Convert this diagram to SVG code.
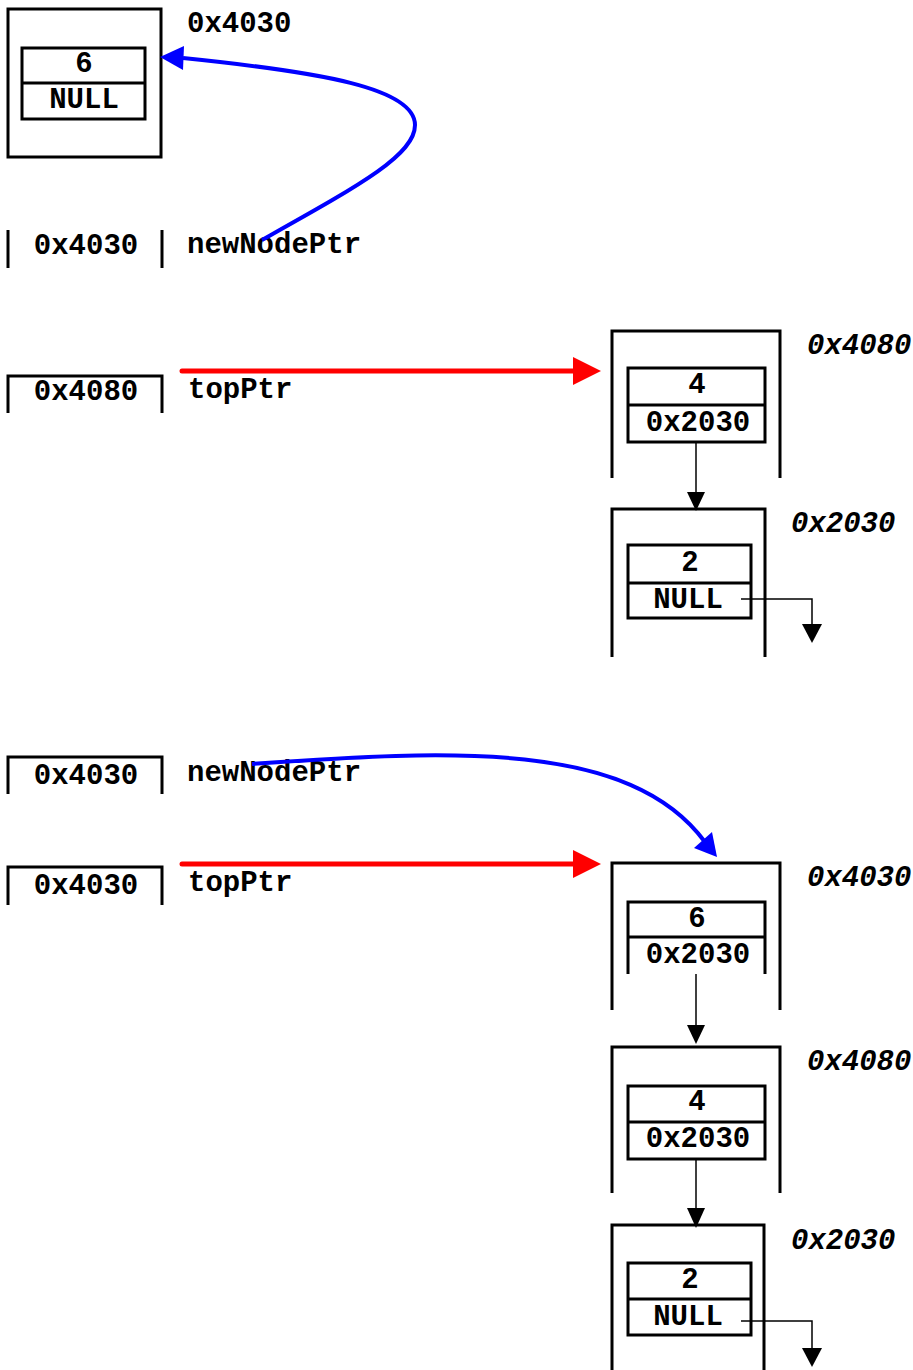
<svg xmlns="http://www.w3.org/2000/svg" width="913" height="1370" viewBox="0 0 913 1370">
<style>
text{font-family:"Liberation Mono","Courier New",monospace;font-weight:bold;font-size:29px;fill:#000}
.c{text-anchor:middle}
.i{font-style:italic}
.b{fill:none;stroke:#000;stroke-width:3}
.t{fill:none;stroke:#000;stroke-width:1.5}
.h{fill:#000}
.red{fill:none;stroke:#f00;stroke-width:5;stroke-linecap:round}
.blue{fill:none;stroke:#00f;stroke-width:4}
</style>
<rect width="913" height="1370" fill="#fff"/>
<g id="top-node-4030">
<rect class="b" x="8" y="9" width="153" height="148"/>
<rect class="b" x="22" y="48" width="123" height="71"/>
<line class="b" x1="22" y1="83" x2="145" y2="83"/>
<text class="c" x="84" y="72">6</text>
<text class="c" x="84" y="108">NULL</text>
<text x="187" y="32">0x4030</text>
</g>
<g id="top-newNodePtr">
<line class="b" x1="8" y1="230" x2="8" y2="268"/>
<line class="b" x1="162" y1="230" x2="162" y2="268"/>
<text class="c" x="86" y="254">0x4030</text>
<text x="187" y="253">newNodePtr</text>
</g>
<g id="mid-topPtr">
<path class="b" d="M8,413 V376 H162 V413"/>
<text class="c" x="86" y="400">0x4080</text>
<text x="188" y="398">topPtr</text>
</g>
<g id="mid-node-4080">
<path class="b" d="M612,478 V331 H780 V478"/>
<rect class="b" x="628" y="368" width="137" height="74"/>
<line class="b" x1="628" y1="405" x2="765" y2="405"/>
<text class="c" x="697" y="393">4</text>
<text class="c" x="698" y="431">0x2030</text>
<text class="i" x="807" y="354">0x4080</text>
</g>
<g id="mid-node-2030">
<path class="b" d="M612,657 V509 H765 V657"/>
<rect class="b" x="628" y="545" width="123" height="73"/>
<line class="b" x1="628" y1="583" x2="751" y2="583"/>
<text class="c" x="690" y="571">2</text>
<text class="c" x="688" y="608">NULL</text>
<text class="i" x="791" y="532">0x2030</text>
</g>
<g id="bot-newNodePtr">
<path class="b" d="M8,794 V757 H162 V794"/>
<text class="c" x="86" y="784">0x4030</text>
<text x="187" y="781">newNodePtr</text>
</g>
<g id="bot-topPtr">
<path class="b" d="M8,905 V867 H162 V905"/>
<text class="c" x="86" y="894">0x4030</text>
<text x="188" y="891">topPtr</text>
</g>
<g id="bot-node-4030">
<path class="b" d="M612,1010 V863 H780 V1010"/>
<path class="b" d="M628,974 V902 H765 V974"/>
<line class="b" x1="628" y1="937" x2="765" y2="937"/>
<text class="c" x="697" y="927">6</text>
<text class="c" x="698" y="963">0x2030</text>
<text class="i" x="807" y="886">0x4030</text>
</g>
<g id="bot-node-4080">
<path class="b" d="M612,1193 V1047 H780 V1193"/>
<rect class="b" x="628" y="1086" width="137" height="73"/>
<line class="b" x1="628" y1="1122" x2="765" y2="1122"/>
<text class="c" x="697" y="1110">4</text>
<text class="c" x="698" y="1147">0x2030</text>
<text class="i" x="807" y="1070">0x4080</text>
</g>
<g id="bot-node-2030">
<path class="b" d="M612,1372 V1225 H764 V1372"/>
<rect class="b" x="628" y="1263" width="123" height="72"/>
<line class="b" x1="628" y1="1299" x2="751" y2="1299"/>
<text class="c" x="690" y="1288">2</text>
<text class="c" x="688" y="1325">NULL</text>
<text class="i" x="791" y="1249">0x2030</text>
</g>
<g id="connectors">
<path class="blue" d="M262,240 C360,185 415,155 415,125 C415,88 320,72 183,58"/>
<polygon fill="#00f" points="160,57 184,46 183,70"/>
<line class="red" x1="182" y1="371" x2="575" y2="371"/>
<polygon fill="#f00" points="573,357 601,371 573,385"/>
<line class="t" x1="696" y1="442" x2="696" y2="493"/>
<polygon class="h" points="687,492 705,492 696,511"/>
<polyline class="t" points="741,599 812,599 812,625"/>
<polygon class="h" points="802,624 822,624 812,643"/>
<path class="blue" d="M252,764 C450,750 630,740 705,842"/>
<polygon fill="#00f" points="717,857 694,848 712,832"/>
<line class="red" x1="182" y1="864" x2="575" y2="864"/>
<polygon fill="#f00" points="573,850 601,864 573,878"/>
<line class="t" x1="696" y1="974" x2="696" y2="1026"/>
<polygon class="h" points="687,1025 705,1025 696,1044"/>
<line class="t" x1="696" y1="1159" x2="696" y2="1209"/>
<polygon class="h" points="687,1208 705,1208 696,1228"/>
<polyline class="t" points="741,1321 812,1321 812,1349"/>
<polygon class="h" points="802,1348 822,1348 812,1367"/>
</g>
</svg>
